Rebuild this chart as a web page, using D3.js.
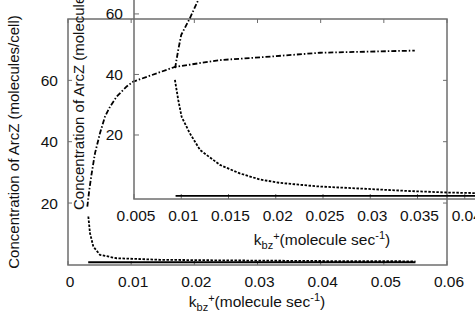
<!DOCTYPE html>
<html>
<head>
<meta charset="utf-8">
<script src="https://cdn.jsdelivr.net/npm/d3@7/dist/d3.min.js"></script>
<style>
  body { margin: 0; background: #fff; }
  text { font-family: "Liberation Sans", Arial, sans-serif; fill: #111; }
</style>
</head>
<body>
<div id="chart"></div>
<script>
// main plot data
var mainArczX = [0.00306, 0.00337, 0.00375, 0.00427, 0.00507, 0.00586, 0.00665, 0.00771, 0.00929, 0.01034, 0.01694, 0.02406, 0.0304, 0.0399, 0.0549];
var mainArczY = [18.8, 24.3, 29.7, 36.2, 42.8, 48.2, 51.4, 54.7, 58.0, 59.6, 64.4, 66.6, 67.5, 69.0, 69.7];
var mainDashX = [0.00322, 0.00348, 0.00401, 0.00507, 0.00771, 0.01457, 0.025, 0.04, 0.055];
var mainDashY = [15.6, 10.2, 5.8, 3.1, 2.0, 1.5, 1.3, 1.1, 1.0];
var mainSolidX = [0.0032, 0.015, 0.03, 0.055];
var mainSolidY = [0.7, 0.7, 0.7, 0.7];
var mainXTicks = [0, 0.01, 0.02, 0.03, 0.04, 0.05, 0.06];
var mainYTicks = [20, 40, 60];

// inset data
var insetArczX = [0.00935, 0.00968, 0.0100, 0.0109, 0.0118, 0.0126];
var insetArczY = [42.1, 48.1, 53.1, 58.5, 64.6, 71];
var insetDashX = [0.00933, 0.00968, 0.01004, 0.0109, 0.0120, 0.0141, 0.0162, 0.0183, 0.0204, 0.0245, 0.0296, 0.034, 0.0381, 0.041, 0.045];
var insetDashY = [38.2, 31.6, 26.0, 20.6, 15.0, 10.1, 7.3, 5.3, 4.2, 3.0, 2.2, 1.5, 1.0, 0.8, 0.6];
var insetSolidX = [0.0094, 0.02, 0.035, 0.045];
var insetSolidY = [-0.15, -0.15, -0.15, -0.15];
var insetXTicks = [0.005, 0.01, 0.015, 0.02, 0.025, 0.03, 0.035, 0.04];
var insetYTicks = [20, 40, 60];

var width = 475, height = 332;
var svg = d3.select("#chart").append("svg")
    .attr("width", width)
    .attr("height", height)
    .style("display", "block");
svg.append("rect").attr("width", width).attr("height", height).attr("fill", "#fff");

var frameColor = "#6e6e6e";
var dashDot = "5,2,1.5,2", dashed = "2.5,1.5";

function zip(xs, ys) { return xs.map(function (x, i) { return [x, ys[i]]; }); }

/* 画一个带边框的坐标区 */
function drawPanel(opt) {
    var x = d3.scaleLinear().domain(opt.xDomain).range([opt.left, opt.right]);
    var y = d3.scaleLinear().domain(opt.yDomain).range([opt.bottom, opt.top]);
    var g = svg.append("g");
    // ticks inside, mirrored
    var tl = opt.tickLen;
    g.selectAll(".xt").data(opt.xTicks).enter().append("path")
        .attr("d", function (d) {
            var px = x(d);
            var s = "M" + px + "," + opt.bottom + "V" + (opt.bottom - tl);
            if (opt.mirror) s += "M" + px + "," + opt.top + "V" + (opt.top + tl);
            return s;
        })
        .attr("stroke", frameColor).attr("stroke-width", 1);
    g.selectAll(".yt").data(opt.yTicks).enter().append("path")
        .attr("d", function (d) {
            var py = y(d);
            var s = "M" + opt.left + "," + py + "H" + (opt.left + tl);
            if (opt.mirror) s += "M" + opt.right + "," + py + "H" + (opt.right - tl);
            return s;
        })
        .attr("stroke", frameColor).attr("stroke-width", 1);
    g.append("rect")
        .attr("x", opt.left).attr("y", opt.top)
        .attr("width", opt.right - opt.left).attr("height", opt.bottom - opt.top)
        .attr("fill", "none").attr("stroke", frameColor).attr("stroke-width", 1.5);
    // tick labels
    g.selectAll(".xl").data(opt.xTicks).enter().append("text")
        .attr("x", function (d) { return x(d) + 2; })
        .attr("y", opt.xLabelY)
        .attr("text-anchor", "middle")
        .style("font-size", "15.5px")
        .text(function (d) { return d3.format("")(+d.toFixed(3)); });
    g.selectAll(".yl").data(opt.yTicks).enter().append("text")
        .attr("x", opt.left - opt.yLabelGap)
        .attr("y", function (d) { return y(d) + 5.5; })
        .attr("text-anchor", "end")
        .style("font-size", "15.5px")
        .text(function (d) { return d; });
    return { x: x, y: y, g: g };
}

function xTitle(g, cx, by) {
    var t = g.append("text").attr("x", cx).attr("y", by)
        .attr("text-anchor", "middle").style("font-size", "15.5px");
    t.append("tspan").text("k");
    t.append("tspan").attr("dy", 4).style("font-size", "11px").text("bz");
    t.append("tspan").attr("dy", -9).style("font-size", "11px").text("+");
    t.append("tspan").attr("dy", 5).text("(molecule sec");
    t.append("tspan").attr("dy", -6).style("font-size", "11px").text("-1");
    t.append("tspan").attr("dy", 6).text(")");
}

function yTitle(g, cx, cy, anchor) {
    g.append("text")
        .attr("transform", "translate(" + cx + "," + cy + ")rotate(-90)")
        .attr("text-anchor", anchor)
        .style("font-size", "15px")
        .text("Concentration of ArcZ (molecules/cell)");
}

function drawLine(panel, xs, ys, dash) {
    var line = d3.line()
        .x(function (d) { return panel.x(d[0]); })
        .y(function (d) { return panel.y(d[1]); });
    panel.g.append("path")
        .datum(zip(xs, ys))
        .attr("d", line)
        .attr("fill", "none")
        .attr("stroke", "#000")
        .attr("stroke-width", 1.8)
        .attr("stroke-dasharray", dash);
}

// 主图
var main = drawPanel({
    left: 68, right: 447, top: 19, bottom: 265,
    xDomain: [0, 0.06], yDomain: [-0.2, 80],
    xTicks: mainXTicks, yTicks: mainYTicks,
    tickLen: 4, mirror: true, xLabelY: 287, yLabelGap: 10
});
xTitle(main.g, 257, 307);
yTitle(main.g, 19, 142, "middle");
drawLine(main, mainSolidX, mainSolidY, null);
drawLine(main, mainDashX, mainDashY, dashed);
drawLine(main, mainArczX, mainArczY, dashDot);

// 插图 (transparent, overlaps main plot)
var inset = drawPanel({
    left: 134, right: 512, top: -46, bottom: 199,
    xDomain: [0.005, 0.045], yDomain: [-1.15, 79.8],
    xTicks: insetXTicks, yTicks: insetYTicks,
    tickLen: 5, mirror: true, xLabelY: 221, yLabelGap: 11
});
xTitle(inset.g, 322, 245);
yTitle(inset.g, 84, 210, "start");
drawLine(inset, insetSolidX, insetSolidY, null);
drawLine(inset, insetDashX, insetDashY, dashed);
drawLine(inset, insetArczX, insetArczY, dashDot);
</script>
</body>
</html>
